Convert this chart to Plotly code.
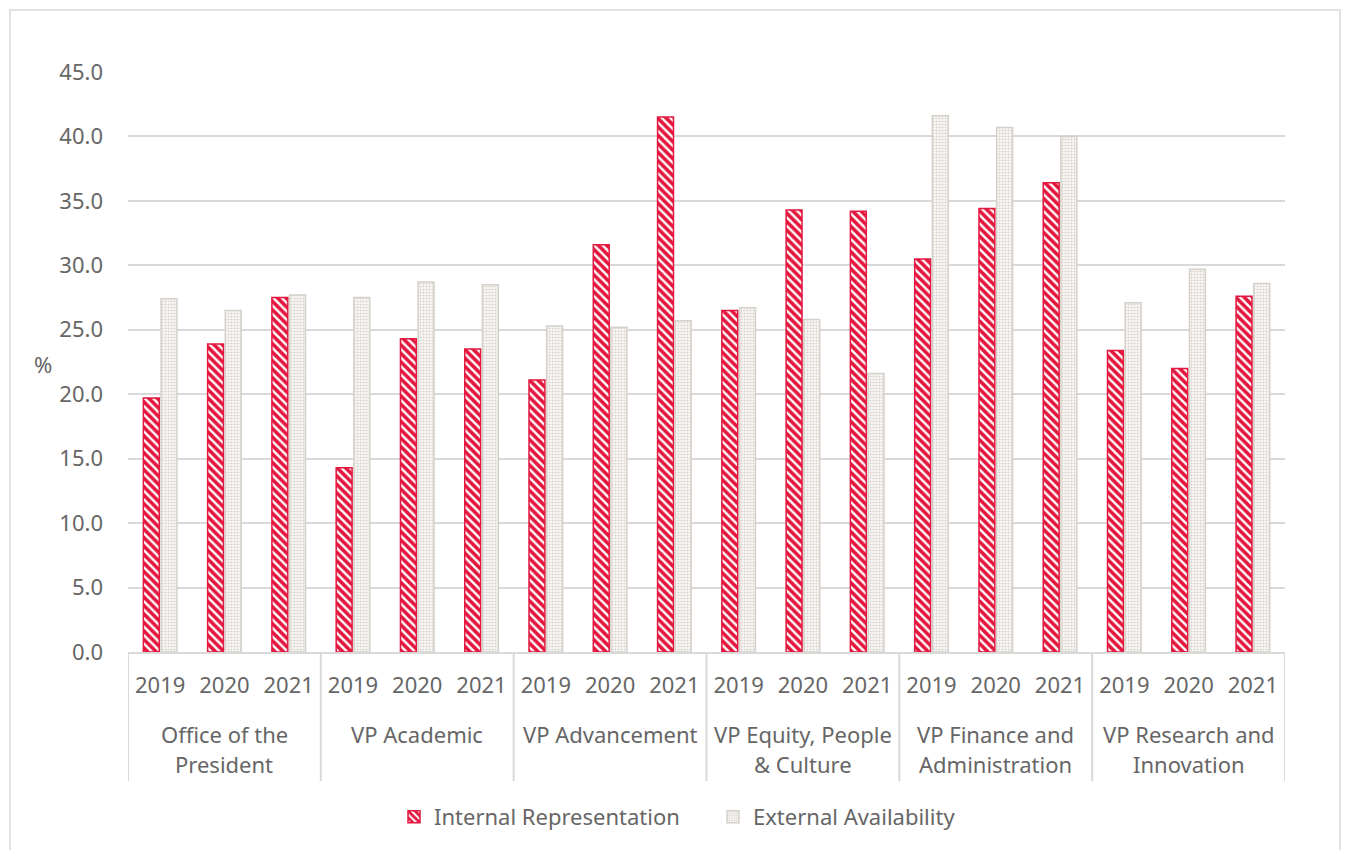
import plotly.graph_objects as go

# Portfolios and years shown along the x axis
portfolios = [
    ["Office of the", "President"],
    ["VP Academic"],
    ["VP Advancement"],
    ["VP Equity, People", "& Culture"],
    ["VP Finance and", "Administration"],
    ["VP Research and", "Innovation"],
]
years = ["2019", "2020", "2021"]

# Percentages per portfolio, in year order
internal_representation = [
    19.7, 23.9, 27.5,
    14.3, 24.3, 23.5,
    21.1, 31.6, 41.5,
    26.5, 34.3, 34.2,
    30.5, 34.4, 36.4,
    23.4, 22.0, 27.6,
]
external_availability = [
    27.4, 26.5, 27.7,
    27.5, 28.7, 28.5,
    25.3, 25.2, 25.7,
    26.7, 25.8, 21.6,
    41.6, 40.7, 40.0,
    27.1, 29.7, 28.6,
]

FONT = "Noto Sans"
TEXT = "#666666"
GRID = "#d9d9d9"
RED = "#e4173e"
GREY = "#d5d0ca"
FS = 22

W, H = 1347, 850
ML, MR, MT, MB = 128, 62, 72, 198
PW, PH = W - ML - MR, H - MT - MB

n_years = len(years)
x_pos = list(range(len(portfolios) * n_years))
tick_text = years * len(portfolios)

fig = go.Figure()
fig.add_trace(go.Bar(
    x=x_pos, y=internal_representation, name="Internal Representation",
    marker=dict(
        color=RED,
        line=dict(color=RED, width=1.5),
        pattern=dict(shape="\\", fgcolor=RED, bgcolor="white",
                     size=6, solidity=0.6, fillmode="replace"),
    ),
))
fig.add_trace(go.Bar(
    x=x_pos, y=external_availability, name="External Availability",
    marker=dict(
        color=GREY,
        line=dict(color=GREY, width=1.5),
        pattern=dict(shape=".", fgcolor="#d8d3cd", bgcolor="#faf9f8",
                     size=3, solidity=0.4, fillmode="replace"),
    ),
))


def px_to_paper_x(px):
    return (px - ML) / PW


def px_to_paper_y(py):
    return (H - MB - py) / PH


shapes = []
# group dividers under the axis
for k in range(len(portfolios) + 1):
    xb = k * n_years - 0.5
    shapes.append(dict(type="line", xref="x", yref="paper",
                       x0=xb, x1=xb, y0=0, y1=px_to_paper_y(781),
                       line=dict(color=GRID, width=2)))
# outer chart frame
shapes.append(dict(type="rect", xref="paper", yref="paper",
                   x0=px_to_paper_x(10), x1=px_to_paper_x(1340),
                   y0=px_to_paper_y(870), y1=px_to_paper_y(10),
                   line=dict(color=GRID, width=1.5), fillcolor="rgba(0,0,0,0)",
                   layer="below"))

annotations = []
for k, lines in enumerate(portfolios):
    xc = k * n_years + (n_years - 1) / 2
    for j, line in enumerate(lines):
        annotations.append(dict(
            x=xc, xref="x", y=px_to_paper_y(734 + 30 * j), yref="paper",
            text=line, showarrow=False, xanchor="center", yanchor="middle",
            font=dict(family=FONT, size=FS, color=TEXT),
        ))
annotations.append(dict(
    x=px_to_paper_x(43), xref="paper", y=px_to_paper_y(364), yref="paper",
    text="%", showarrow=False, xanchor="center", yanchor="middle",
    font=dict(family=FONT, size=FS, color=TEXT),
))

fig.update_layout(
    width=W, height=H,
    margin=dict(l=ML, r=MR, t=MT, b=MB, pad=0),
    paper_bgcolor="white", plot_bgcolor="white",
    font=dict(family=FONT, size=FS, color=TEXT),
    barmode="group", bargap=0.45, bargroupgap=0.1,
    showlegend=True,
    legend=dict(orientation="h", x=px_to_paper_x(394), xanchor="left",
                y=px_to_paper_y(817), yanchor="middle",
                font=dict(family=FONT, size=FS, color=TEXT),
                itemwidth=30, traceorder="normal",
                entrywidth=274, entrywidthmode="pixels"),
    xaxis=dict(
        range=[-0.5, len(x_pos) - 0.5],
        tickmode="array", tickvals=x_pos, ticktext=tick_text,
        showgrid=False, zeroline=False,
        showline=True, linecolor=GRID, linewidth=2,
        ticks="", ticklabelstandoff=13,
        tickfont=dict(family=FONT, size=FS, color=TEXT),
    ),
    yaxis=dict(
        range=[0, 45], dtick=5, tickformat=".1f",
        showgrid=True, gridcolor=GRID, gridwidth=2,
        zeroline=False, showline=False, ticks="",
        ticklabelstandoff=24,
        tickfont=dict(family=FONT, size=FS, color=TEXT),
    ),
    shapes=shapes,
    annotations=annotations,
)

fig.write_html("out.html")
